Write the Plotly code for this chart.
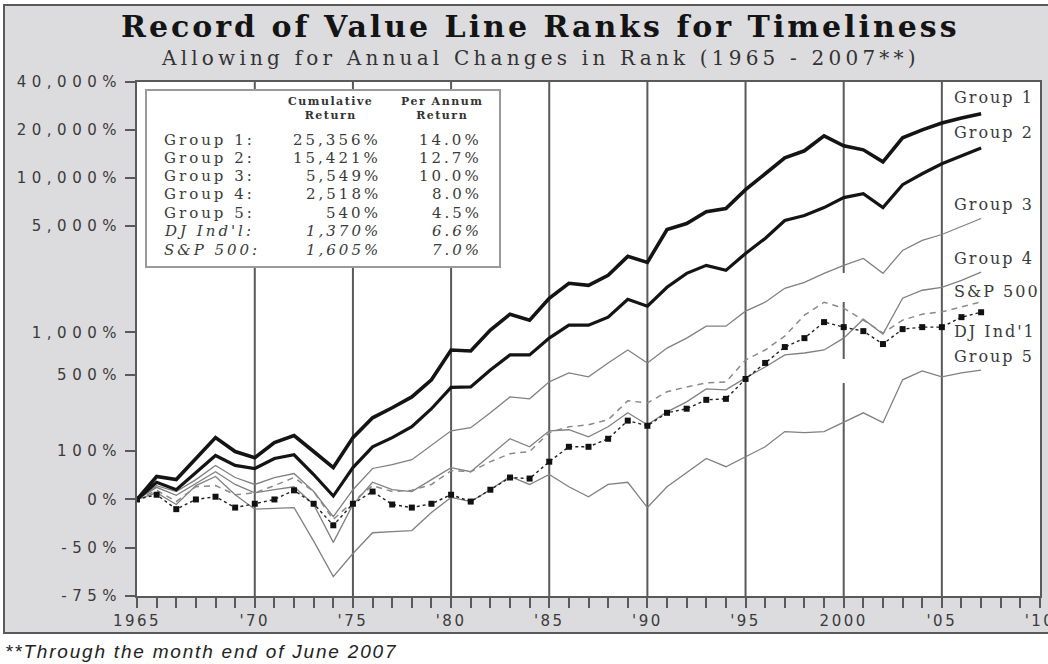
import plotly.graph_objects as go

# ---------------- data (cumulative return in %, year-end values) ----------------
# 1964 = starting point (start of 1965), 2007 = end of June 2007
years = list(range(1964, 2008))

group1 = [0, 39, 33, 80, 143, 99, 82, 126, 150, 99, 58, 143, 223, 273, 336, 457, 755, 743,
          1037, 1330, 1212, 1697, 2127, 2065, 2397, 3178, 2908, 4722, 5154, 6137, 6411, 8444,
          10640, 13400, 14830, 18400, 15930, 15040, 12650, 17880, 20050, 22170, 23830, 25356]
group2 = [0, 28, 15, 47, 88, 63, 56, 80, 90, 43, 5, 58, 113, 143, 184, 268, 400, 403,
          542, 696, 696, 914, 1122, 1122, 1270, 1672, 1503, 2004, 2470, 2782, 2583, 3321,
          4140, 5383, 5792, 6505, 7521, 7969, 6505, 9078, 10640, 12290, 13800, 15421]
group3 = [0, 22, 12, 33, 63, 37, 24, 37, 45, 12, -22, 15, 56, 65, 77, 117, 168, 180,
          247, 336, 324, 441, 515, 481, 610, 755, 610, 779, 914, 1104, 1104, 1393,
          1598, 1974, 2159, 2470, 2782, 3085, 2470, 3471, 4020, 4389, 4935, 5549]
group4 = [0, 19, 6, 26, 49, 24, 10, 15, 20, -7, -46, -7, 28, 15, 12, 33, 58, 49,
          90, 139, 113, 168, 172, 146, 184, 247, 192, 252, 306, 389, 382, 473,
          570, 696, 719, 755, 914, 1231, 974, 1697, 1916, 2004, 2226, 2518]
group5 = [0, 10, -7, 22, 39, 7, -13, -12, -11, -45, -67, -54, -38, -37, -36, -17, 3, -3,
          15, 39, 24, 43, 20, 4, 24, 28, -11, 20, 47, 80, 60, 85,
          113, 165, 161, 165, 205, 247, 201, 457, 533, 481, 515, 540]
dj_indl = [0, 7, -13, 0, 4, -11, -6, 0, 14, -6, -31, -6, 12, -7, -11, -6, 7, -3,
           15, 37, 35, 72, 113, 113, 139, 210, 188, 247, 268, 318, 324, 464,
           610, 792, 914, 1176, 1087, 1021, 831, 1054, 1087, 1087, 1270, 1370]
sp500 = [0, 14, -3, 20, 22, 7, 10, 22, 37, 12, -25, -3, 22, 12, 14, 24, 51, 49,
         72, 93, 99, 161, 184, 192, 214, 312, 300, 369, 403, 433, 441, 640,
         755, 944, 1310, 1598, 1458, 1212, 990, 1212, 1330, 1378, 1487, 1605]

table_labels = ["Group 1:", "Group 2:", "Group 3:", "Group 4:", "Group 5:", "DJ Ind'l:", "S&P 500:"]
table_cumulative = ["25,356%", "15,421%", "5,549%", "2,518%", "540%", "1,370%", "1,605%"]
table_per_annum = ["14.0%", "12.7%", "10.0%", "8.0%", "4.5%", "6.6%", "7.0%"]

y_tick_pct = [-75, -50, 0, 100, 500, 1000, 5000, 10000, 20000, 40000]
y_tick_text = ["-75%", "-50%", "0%", "100%", "500%", "1,000%", "5,000%", "10,000%", "20,000%", "40,000%"]
x_tick_vals = [1964, 1970, 1975, 1980, 1985, 1990, 1995, 2000, 2005, 2010]
x_tick_text = ["1965", "'70", "'75", "'80", "'85", "'90", "'95", "2000", "'05", "'10"]
grid_years = [1970, 1975, 1980, 1985, 1990, 1995, 2005]

end_labels = ["Group 1", "Group 2", "Group 3", "Group 4", "S&P 500", "DJ Ind'1", "Group 5"]

title_text = "Record of Value Line Ranks for Timeliness"
subtitle_text = "Allowing for Annual Changes in Rank (1965 - 2007**)"
footnote_text = "**Through the month end of June 2007"

# ---------------- layout geometry (pixels) ----------------
W, H = 1048, 664
L, R, T, B = 137, 8, 82, 68
PW, PH = W - L - R, H - T - B


def px(x):
    return (x - L) / PW


def py(y):
    return (H - B - y) / PH


def sp(text, ls):
    return f"<span style='letter-spacing:{ls}px'>{text}</span>"


def wealth(series):
    return [1 + v / 100.0 for v in series]


fig = go.Figure()

GRAY = "#808080"
fig.add_trace(go.Scatter(x=years, y=wealth(group5), mode="lines",
                         line=dict(color=GRAY, width=1.3), name="Group 5"))
fig.add_trace(go.Scatter(x=years, y=wealth(group4), mode="lines",
                         line=dict(color=GRAY, width=1.3), name="Group 4"))
fig.add_trace(go.Scatter(x=years, y=wealth(group3), mode="lines",
                         line=dict(color=GRAY, width=1.3), name="Group 3"))
fig.add_trace(go.Scatter(x=years, y=wealth(sp500), mode="lines",
                         line=dict(color="#8a8a8a", width=1.5, dash="6px,5px"), name="S&P 500"))
fig.add_trace(go.Scatter(x=years, y=wealth(dj_indl), mode="lines+markers",
                         line=dict(color="#222222", width=1.4, dash="dot"),
                         marker=dict(symbol="square", size=6, color="#111111"), name="DJ Ind'l"))
fig.add_trace(go.Scatter(x=years, y=wealth(group2), mode="lines",
                         line=dict(color="#141414", width=3.2), name="Group 2"))
fig.add_trace(go.Scatter(x=years, y=wealth(group1), mode="lines",
                         line=dict(color="#141414", width=3.6), name="Group 1"))

shapes = []
# grey panel with border, then white plotting area
shapes.append(dict(type="rect", xref="paper", yref="paper", layer="below",
                   x0=px(4), x1=px(1120), y0=py(633), y1=py(5),
                   fillcolor="#dcdcde", line=dict(color="#5a5a5a", width=2)))
shapes.append(dict(type="rect", xref="paper", yref="paper", layer="below",
                   x0=0, x1=1, y0=0, y1=1, fillcolor="white", line=dict(width=0)))
# vertical grid lines
for gx in grid_years:
    shapes.append(dict(type="line", xref="x", yref="paper", layer="below",
                       x0=gx, x1=gx, y0=0, y1=1, line=dict(color="#5a5a5a", width=2)))
# the 2000 line is broken in two places
for (ya, yb) in [(82, 273), (302, 359), (383, 596)]:
    shapes.append(dict(type="line", xref="x", yref="paper", layer="below",
                       x0=2000, x1=2000, y0=py(yb), y1=py(ya), line=dict(color="#5a5a5a", width=2)))
# table box
shapes.append(dict(type="rect", xref="paper", yref="paper", layer="above",
                   x0=px(146), x1=px(500), y0=py(267), y1=py(90),
                   fillcolor="white", line=dict(color="#9a9a9a", width=2)))

ann = []
ann.append(dict(text=sp(f"<b>{title_text}</b>", 3), xref="paper", yref="paper",
                x=px(540), y=py(27), showarrow=False, xanchor="center", yanchor="middle",
                font=dict(family="DejaVu Serif", size=30, color="#141414")))
ann.append(dict(text=sp(subtitle_text, 4.2), xref="paper", yref="paper",
                x=px(540), y=py(58), showarrow=False, xanchor="center", yanchor="middle",
                font=dict(family="DejaVu Serif", size=20, color="#333333")))
ann.append(dict(text=sp(f"<i>{footnote_text}</i>", 1.8), xref="paper", yref="paper",
                x=px(3), y=py(651), showarrow=False, xanchor="left", yanchor="middle",
                font=dict(family="Liberation Sans", size=19, color="#222222")))

# table headers
ann.append(dict(text=sp("<b>Cumulative</b><br><b>Return</b>", 1.5), xref="paper", yref="paper",
                x=px(330), y=py(108), showarrow=False, xanchor="center", yanchor="middle",
                font=dict(family="DejaVu Serif", size=11, color="#333333"), align="center"))
ann.append(dict(text=sp("<b>Per Annum</b><br><b>Return</b>", 1.5), xref="paper", yref="paper",
                x=px(442), y=py(108), showarrow=False, xanchor="center", yanchor="middle",
                font=dict(family="DejaVu Serif", size=11, color="#333333"), align="center"))
row_y = [139.5, 157.8, 176, 194.3, 212.6, 231.5, 250]
for i, (lab, cum, pa) in enumerate(zip(table_labels, table_cumulative, table_per_annum)):
    it = i >= 5
    f = (lambda s: f"<i>{s}</i>") if it else (lambda s: s)
    fnt = dict(family="DejaVu Serif", size=15, color="#3a3a3a")
    ann.append(dict(text=sp(f(lab), 3), xref="paper", yref="paper", x=px(162), y=py(row_y[i]),
                    showarrow=False, xanchor="left", yanchor="middle", font=fnt))
    ann.append(dict(text=sp(f(cum), 3), xref="paper", yref="paper", x=px(383), y=py(row_y[i]),
                    showarrow=False, xanchor="right", yanchor="middle", font=fnt))
    ann.append(dict(text=sp(f(pa), 3), xref="paper", yref="paper", x=px(484), y=py(row_y[i]),
                    showarrow=False, xanchor="right", yanchor="middle", font=fnt))

# end-of-line labels
end_y = [97, 132.5, 204, 258.5, 291.5, 331.5, 356]
for lab, yy in zip(end_labels, end_y):
    ann.append(dict(text=sp(lab, 2), xref="paper", yref="paper", x=px(952), y=py(yy),
                    showarrow=False, xanchor="left", yanchor="middle",
                    font=dict(family="DejaVu Serif", size=16, color="#3a3a3a")))

fig.update_layout(
    width=W, height=H, margin=dict(l=L, r=R, t=T, b=B, pad=0, autoexpand=False),
    paper_bgcolor="white", plot_bgcolor="white", showlegend=False,
    shapes=shapes, annotations=ann,
    xaxis=dict(range=[1964, 2010], tickmode="array", tickvals=x_tick_vals,
               ticktext=[sp(t, 2.5) for t in x_tick_text], ticklabeloverflow="allow",
               automargin=False,
               showgrid=False, zeroline=False, showline=True, mirror=True,
               linecolor="#5a5a5a", linewidth=2, ticks="outside", ticklen=10,
               tickwidth=1.5, tickcolor="#5a5a5a",
               tickfont=dict(family="DejaVu Sans", size=15, color="#3a3a3a"),
               minor=dict(tickmode="array", tickvals=list(range(1964, 2011)), ticks="outside",
                          ticklen=10, tickwidth=1.5, tickcolor="#5a5a5a", showgrid=False)),
    yaxis=dict(type="log", range=[-0.60206, 2.6031], tickmode="array",
               tickvals=[1 + v / 100.0 for v in y_tick_pct],
               ticktext=[sp(t, 5.5) for t in y_tick_text], automargin=False,
               showgrid=False, zeroline=False, showline=True, mirror=True,
               linecolor="#5a5a5a", linewidth=2, ticks="outside", ticklen=10,
               tickwidth=2, tickcolor="#5a5a5a", ticklabelstandoff=0,
               tickfont=dict(family="DejaVu Sans", size=15, color="#3a3a3a")),
)

fig.write_html("out.html", config={"displayModeBar": False},
               post_script="document.body.style.margin='0';document.body.style.padding='0';")
